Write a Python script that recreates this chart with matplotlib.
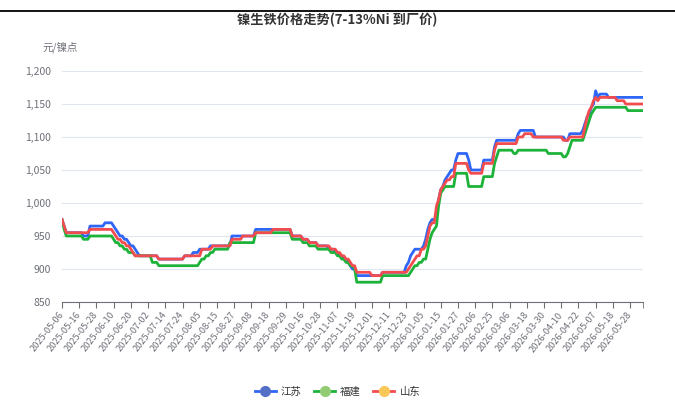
import numpy as np
import matplotlib
matplotlib.use('Agg')
import matplotlib.pyplot as plt
from matplotlib.lines import Line2D
from matplotlib.ticker import FuncFormatter

plt.rcParams['font.family'] = ['Noto Sans CJK SC', 'DejaVu Sans']

# x axis labels (one every 8 trading days)
tick_dates = ['2025-05-06', '2025-05-16', '2025-05-28', '2025-06-10', '2025-06-20',
              '2025-07-02', '2025-07-14', '2025-07-24', '2025-08-05', '2025-08-15',
              '2025-08-27', '2025-09-08', '2025-09-18', '2025-09-29', '2025-10-16',
              '2025-10-28', '2025-11-07', '2025-11-19', '2025-12-01', '2025-12-11',
              '2025-12-23', '2026-01-05', '2026-01-15', '2026-01-27', '2026-02-06',
              '2026-02-25', '2026-03-06', '2026-03-18', '2026-03-30', '2026-04-10',
              '2026-04-22', '2026-05-07', '2026-05-18', '2026-05-28']

# daily prices as (price, number of trading days)
jiangsu = [(975, 1), (965, 1), (955, 8), (950, 3), (965, 7), (970, 4), (965, 1), (960, 1),
           (955, 1), (950, 2), (945, 2), (940, 1), (935, 2), (930, 1), (925, 1), (920, 9),
           (915, 12), (920, 4), (925, 3), (930, 5), (935, 10), (950, 11), (960, 17),
           (950, 5), (945, 3), (940, 4), (935, 5), (930, 3), (925, 2), (920, 2), (915, 2),
           (910, 1), (905, 1), (900, 2), (890, 12), (895, 11), (905, 1), (910, 1),
           (920, 1), (925, 1), (930, 4), (935, 1), (945, 1), (960, 1), (970, 1), (975, 2),
           (980, 1), (1005, 1), (1020, 1), (1025, 1), (1035, 1), (1040, 1), (1045, 1),
           (1050, 2), (1065, 1), (1075, 5), (1065, 1), (1050, 6), (1065, 5), (1085, 1),
           (1095, 10), (1105, 1), (1110, 7), (1100, 14), (1095, 2), (1105, 6), (1110, 1),
           (1120, 1), (1130, 1), (1135, 1), (1145, 1), (1150, 1), (1170, 1), (1160, 1),
           (1165, 4), (1160, 17)]

fujian = [(975, 1), (960, 1), (950, 8), (945, 3), (950, 11), (945, 1), (940, 2), (935, 2),
          (930, 2), (925, 3), (920, 8), (910, 3), (905, 19), (910, 1), (915, 2), (920, 2),
          (925, 2), (930, 7), (940, 12), (955, 17), (945, 5), (940, 3), (935, 4), (930, 6),
          (925, 3), (920, 2), (915, 2), (910, 2), (905, 2), (900, 1), (880, 12), (890, 13),
          (895, 1), (900, 1), (905, 2), (910, 2), (915, 2), (930, 1), (945, 1), (955, 1),
          (960, 1), (965, 1), (995, 1), (1015, 1), (1020, 1), (1025, 5), (1045, 6),
          (1025, 7), (1040, 5), (1060, 1), (1070, 1), (1080, 7), (1075, 2), (1080, 14),
          (1075, 7), (1070, 2), (1075, 1), (1085, 1), (1095, 6), (1105, 1), (1115, 1),
          (1125, 1), (1135, 1), (1140, 1), (1145, 15), (1140, 8)]

shandong = [(975, 1), (965, 1), (955, 11), (960, 11), (955, 1), (950, 1), (945, 2), (940, 2),
            (935, 2), (930, 1), (925, 1), (920, 11), (915, 12), (920, 8), (930, 5), (935, 9),
            (945, 5), (950, 6), (955, 8), (960, 9), (950, 5), (945, 3), (940, 4), (935, 6),
            (930, 3), (925, 2), (920, 2), (915, 2), (910, 1), (905, 2), (895, 7), (890, 5),
            (895, 12), (900, 1), (905, 1), (910, 1), (915, 1), (920, 2), (930, 2), (935, 1),
            (950, 1), (965, 1), (970, 2), (995, 1), (1005, 1), (1020, 1), (1025, 1),
            (1030, 1), (1035, 2), (1040, 2), (1060, 6), (1050, 1), (1045, 6), (1060, 5),
            (1080, 1), (1090, 10), (1100, 3), (1105, 4), (1100, 14), (1095, 3), (1100, 7),
            (1115, 1), (1130, 1), (1140, 1), (1145, 1), (1155, 1), (1160, 1), (1155, 1),
            (1160, 8), (1155, 4), (1150, 9)]


def expand(runs):
    return np.concatenate([[v] * n for v, n in runs])


js = expand(jiangsu)
fj = expand(fujian)
sd = expand(shandong)
x = np.arange(len(js))

W, H = 675, 401
fig = plt.figure(figsize=(W / 100, H / 100), dpi=100)
ax = fig.add_axes([62 / W, 1 - 302 / H, (643 - 62) / W, (302 - 71) / H])

c_js, c_fj, c_sd = '#2f66f5', '#1db33a', '#f24c4f'
ax.plot(x, js, color=c_js, lw=2, zorder=3)
ax.plot(x, fj, color=c_fj, lw=2, zorder=3)
ax.plot(x, sd, color=c_sd, lw=2, zorder=3)

ax.set_xlim(0, len(x) - 1)
ax.set_ylim(850, 1200)
ax.set_yticks(range(850, 1201, 50))
ax.yaxis.set_major_formatter(FuncFormatter(lambda v, p: f'{v:,.0f}'))
ax.grid(axis='y', color='#E0E6F1', lw=0.8)
ax.set_axisbelow(True)
for s in ['top', 'right', 'left']:
    ax.spines[s].set_visible(False)
ax.spines['bottom'].set_color('#6E7079')
ax.tick_params(axis='y', length=0, pad=8, labelsize=7.5, labelcolor='#6E7079')

ax.set_xticks(range(0, len(tick_dates) * 8, 8))
ax.set_xticks([len(x) - 1], minor=True)
ax.set_xticklabels(tick_dates, rotation=52, ha='right', va='center',
                   rotation_mode='anchor', fontsize=6.7, color='#6E7079')
ax.tick_params(axis='x', which='both', length=4, color='#6E7079', pad=4)

fig.text(0.5, 1 - 20 / H, '镍生铁价格走势(7-13%Ni 到厂价)', ha='center', va='center',
         fontsize=9.5, fontweight='bold', color='#333333')
fig.text(42 / W, 1 - 47 / H, '元/镍点', ha='left', va='center', fontsize=7.5, color='#6E7079')
fig.add_artist(Line2D([0, 1], [1 - 10.5 / H] * 2, color='black', lw=1.3))

handles = [Line2D([], [], color=c_js, lw=2, marker='o', ms=7, mfc='#5470c6', mec='#5470c6'),
           Line2D([], [], color=c_fj, lw=2, marker='o', ms=7, mfc='#91cc75', mec='#91cc75'),
           Line2D([], [], color=c_sd, lw=2, marker='o', ms=7, mfc='#fac858', mec='#fac858')]
fig.legend(handles, ['江苏', '福建', '山东'], loc='center', bbox_to_anchor=(0.5, 1 - 392 / H),
           ncol=3, frameon=False, fontsize=7.5, handlelength=2.0, columnspacing=1.2,
           handletextpad=0.5, labelcolor='#333333')

fig.savefig('out.png', dpi=100)
